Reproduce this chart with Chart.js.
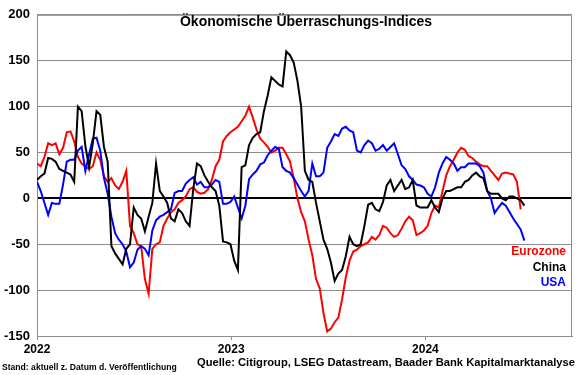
<!DOCTYPE html>
<html>
<head>
<meta charset="utf-8">
<script src="https://cdn.jsdelivr.net/npm/chart.js@4"></script>
<style>
  html, body { margin: 0; padding: 0; background: #fff; }
  #wrap { width: 580px; height: 375px; }
</style>
</head>
<body>
<div id="wrap"><canvas id="chart" width="580" height="375"></canvas></div>
<script>
// Weekly values, week 0 = first week of Jan 2022
const yearTicks = [0, 52.2, 104.4];
const yearLabels = ["2022", "2023", "2024"];

const euro = [38,35,45,60,58,60,48,55,72,73, 62,45,38,35,32,35,50,42,24,18,
  22,14,10,18,30,-30,-38,-50,-52,-88, -104,-55,-50,-48,-30,-22,-15,-12,-5,-2,
  2,10,12,7,5,6,10,20,35,42, 62,68,72,75,78,84,90,100,88,75,
  65,61,56,50,52,55,55,48,40,22, 0,-15,-25,-45,-62,-88,-98,-125,-145,-142,
  -135,-130,-110,-86,-68,-58,-56,-52,-50,-48, -42,-45,-40,-30,-32,-38,-42,-40,-33,-25,
  -20,-24,-40,-38,-35,-30,-16,-8,-10,8, 25,35,42,50,55,53,46,44,40,37,
  35,35,30,25,20,27,28,27,26,18, -12];

const china = [20,24,27,44,43,40,32,30,28,26, 18,100,95,57,34,60,95,91,56,40,
  -52,-60,-66,-72,-55,-50,-10,-18,-22,-36, -20,-5,38,8,2,-5,-22,-25,-12,-16,
  -25,-30,10,38,35,25,18,12,8,-8, -47,-48,-50,-68,-78,34,36,58,66,70,
  72,95,112,132,128,124,122,160,156,148, 128,100,30,20,18,-5,-25,-45,-55,-70,
  -90,-82,-78,-63,-42,-50,-52,-50,-30,-7, -5,-12,-14,-4,14,20,8,14,20,10,
  12,20,-8,-10,-10,-10,-2,-10,-15,0, 8,8,10,12,12,18,20,25,28,24,
  22,8,5,5,5,0,-2,2,2,0, -2,-8];

const usa = [18,8,-5,-18,-5,-6,-6,15,40,42, 42,52,56,30,48,65,66,52,22,5,
  -20,-38,-45,-50,-58,-75,-70,-56,-52,-55, -62,-35,-24,-20,-18,-15,-12,6,8,8,
  16,20,23,15,18,12,12,15,20,18, -6,-6,-4,2,-10,-22,-8,21,26,30,
  37,39,47,52,56,54,34,30,28,22, 15,8,2,8,38,24,24,28,55,62,
  70,68,76,78,74,72,52,50,58,63, 60,52,54,58,52,56,60,48,36,32,
  24,20,15,14,12,5,2,12,28,38, 45,42,38,30,34,34,38,38,38,35,
  28,8,0,-16,-10,-5,-8,-15,-22,-28, -34,-46];

const seriesNames = ["Eurozone", "China", "USA"];
const seriesColors = ["#ff0000", "#000000", "#0000ff"];

const toPoints = arr => arr.map((v, i) => ({ x: i, y: v }));

// title, legend, footer and box border
const extras = {
  id: "extras",
  afterDatasetsDraw(chart) {
    const ctx = chart.ctx;
    const a = chart.chartArea;
    ctx.save();
    ctx.strokeStyle = "#8c8c8c";
    ctx.lineWidth = 1;
    ctx.beginPath();
    ctx.moveTo(a.left, a.top + 0.5);
    ctx.lineTo(a.right - 0.5, a.top + 0.5);
    ctx.lineTo(a.right - 0.5, a.bottom);
    ctx.stroke();

    ctx.fillStyle = "#000";
    ctx.font = "bold 14px 'Liberation Sans', Arial, sans-serif";
    ctx.textAlign = "center";
    ctx.textBaseline = "middle";
    ctx.fillText("Ökonomische Überraschungs-Indices", 306, 22);

    ctx.font = "bold 12px 'Liberation Sans', Arial, sans-serif";
    ctx.textAlign = "right";
    const ys = [252, 268, 283];
    seriesNames.forEach((n, i) => {
      ctx.fillStyle = seriesColors[i];
      ctx.fillText(n, 566, ys[i]);
    });

    ctx.fillStyle = "#000";
    ctx.textAlign = "left";
    ctx.font = "bold 8.6px 'Liberation Sans', Arial, sans-serif";
    ctx.fillText("Stand: aktuell z. Datum d. Veröffentlichung", 2, 368);
    ctx.font = "bold 11.2px 'Liberation Sans', Arial, sans-serif";
    ctx.fillText("Quelle: Citigroup, LSEG Datastream, Baader Bank Kapitalmarktanalyse", 197, 363);
    ctx.restore();
  }
};

new Chart(document.getElementById("chart"), {
  type: "line",
  data: {
    datasets: [
      { label: seriesNames[1], data: toPoints(china), borderColor: seriesColors[1], order: 1 },
      { label: seriesNames[2], data: toPoints(usa), borderColor: seriesColors[2], order: 2 },
      { label: seriesNames[0], data: toPoints(euro), borderColor: seriesColors[0], order: 3 }
    ]
  },
  options: {
    responsive: false,
    animation: false,
    layout: { padding: { top: 11, right: 8, left: 0, bottom: 0 } },
    elements: {
      line: { borderWidth: 2, tension: 0 },
      point: { radius: 0 }
    },
    plugins: { legend: { display: false }, tooltip: { enabled: false } },
    scales: {
      x: {
        type: "linear",
        min: 0,
        max: 143.8,
        afterBuildTicks: axis => { axis.ticks = yearTicks.map(v => ({ value: v })); },
        afterFit: scale => { scale.height = 39; },
        ticks: {
          autoSkip: false,
          maxRotation: 0,
          padding: 2,
          color: "#000",
          font: { family: "'Liberation Sans', Arial, sans-serif", size: 12, weight: "bold" },
          callback: (v, i) => yearLabels[i]
        },
        grid: { drawOnChartArea: false, drawTicks: true, tickLength: 4, color: "#8c8c8c" },
        border: { color: "#8c8c8c", width: 1 }
      },
      y: {
        min: -150,
        max: 200,
        afterFit: scale => { scale.width = 37; },
        ticks: {
          stepSize: 50,
          padding: 7,
          color: "#000",
          font: { family: "'Liberation Sans', Arial, sans-serif", size: 13, weight: "bold" }
        },
        grid: {
          drawTicks: false,
          color: c => (c.tick && c.tick.value === 0 ? "#000" : "#8c8c8c"),
          lineWidth: c => (c.tick && c.tick.value === 0 ? 2 : 1)
        },
        border: { color: "#8c8c8c", width: 1 }
      }
    }
  },
  plugins: [extras]
});
</script>
</body>
</html>
